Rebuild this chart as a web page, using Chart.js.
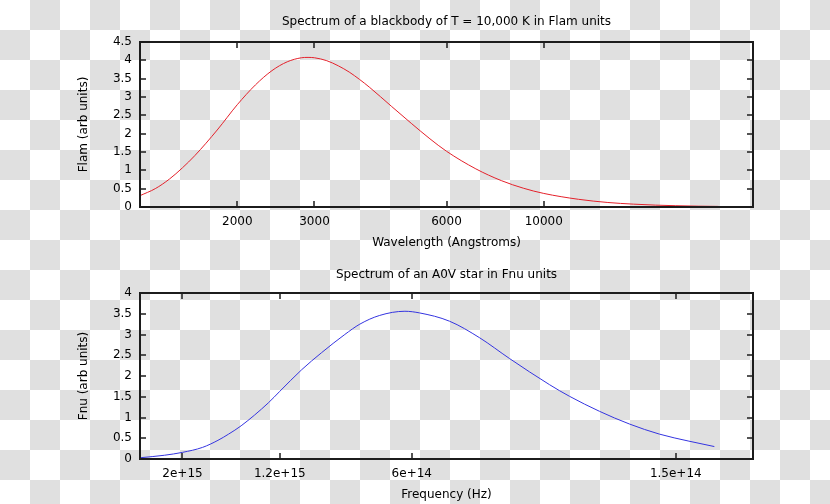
<!DOCTYPE html>
<html>
<head>
<meta charset="utf-8">
<script src="https://cdn.jsdelivr.net/npm/chart.js@4/dist/chart.umd.min.js"></script>
<style>
  html, body {
    margin: 0;
    padding: 0;
  }
  body {
    width: 830px;
    height: 504px;
    overflow: hidden;
    position: relative;
    background: repeating-conic-gradient(#e0e0e0 0 25%, #ffffff 0 50%) 0 0 / 60px 60px;
  }
  canvas {
    position: absolute;
    left: 0;
  }
  #flamChart { top: 0; }
  #fnuChart { top: 252px; }
</style>
</head>
<body>
<canvas id="flamChart" width="830" height="252"></canvas>
<canvas id="fnuChart" width="830" height="252"></canvas>
<script>
// top panel: blackbody, wavelength in Angstroms vs Flam
const flamWavelength = [1200, 1300, 1400, 1500, 1600, 1800, 2000, 2200, 2400, 2600, 2800, 2900, 3000, 3200, 3400, 3600, 3800, 4000, 4500, 5000, 5500, 6000, 7000, 8000, 9000, 10000, 12000, 14000, 16000, 18000, 20000, 22500, 25000];
const flamFlux = [0.31, 0.50, 0.76, 1.07, 1.40, 2.10, 2.79, 3.33, 3.72, 3.96, 4.07, 4.08, 4.07, 3.99, 3.85, 3.68, 3.48, 3.27, 2.74, 2.27, 1.86, 1.52, 1.04, 0.72, 0.51, 0.37, 0.21, 0.123, 0.078, 0.051, 0.035, 0.023, 0.016];
const flamXTicks = [2000, 3000, 6000, 10000];
const flamYTicks = [0, 0.5, 1, 1.5, 2, 2.5, 3, 3.5, 4, 4.5];

// bottom panel: A0V star, frequency in Hz vs Fnu
const fnuFrequency = [2.5e15, 2.2e15, 2.0e15, 1.8e15, 1.66e15, 1.57e15, 1.47e15, 1.275e15, 1.2e15, 1.07e15, 9.64e14, 8.53e14, 7.88e14, 7.1e14, 6.22e14, 5.76e14, 4.92e14, 4.2e14, 3.59e14, 2.91e14, 2.62e14, 2.24e14, 1.91e14, 1.635e14, 1.4e14, 1.225e14];
const fnuFlux = [0.03, 0.09, 0.16, 0.28, 0.45, 0.60, 0.80, 1.35, 1.63, 2.15, 2.56, 3.00, 3.25, 3.46, 3.56, 3.52, 3.32, 2.92, 2.42, 1.79, 1.51, 1.15, 0.84, 0.60, 0.43, 0.30];
const fnuXTicks = [2e15, 1.2e15, 6e14, 1.5e14];
const fnuXTickLabels = ['2e+15', '1.2e+15', '6e+14', '1.5e+14'];
const fnuYTicks = [0, 0.5, 1, 1.5, 2, 2.5, 3, 3.5, 4];

const FONT = 'DejaVu Sans';

// gnuplot style border with inward ticks on all four sides
const framePlugin = {
  id: 'frame',
  afterDraw(chart) {
    const { ctx, chartArea: area, scales } = chart;
    const len = 6;
    ctx.save();
    ctx.strokeStyle = '#1c1c1c';
    ctx.lineWidth = 1.5;
    ctx.beginPath();
    scales.x.ticks.forEach((tick) => {
      const px = Math.round(scales.x.getPixelForValue(tick.value));
      ctx.moveTo(px, area.bottom);
      ctx.lineTo(px, area.bottom - len);
      ctx.moveTo(px, area.top);
      ctx.lineTo(px, area.top + len);
    });
    scales.y.ticks.forEach((tick) => {
      const py = Math.round(scales.y.getPixelForValue(tick.value));
      ctx.moveTo(area.left, py);
      ctx.lineTo(area.left + len, py);
      ctx.moveTo(area.right, py);
      ctx.lineTo(area.right - len, py);
    });
    ctx.stroke();
    ctx.lineWidth = 2;
    ctx.strokeRect(area.left, area.top, area.right - area.left, area.bottom - area.top);
    ctx.restore();
  },
};

function makeChart(canvasId, opts) {
  return new Chart(document.getElementById(canvasId), {
    type: 'line',
    data: {
      datasets: [
        {
          data: opts.xs.map((x, i) => ({ x, y: opts.ys[i] })),
          xAxisID: 'x',
          yAxisID: 'y',
          borderColor: opts.color,
          borderWidth: 1,
          pointRadius: 0,
          cubicInterpolationMode: 'monotone',
          fill: false,
        },
      ],
    },
    options: {
      responsive: false,
      animation: false,
      devicePixelRatio: 1,
      layout: { padding: { left: 0, right: 77, top: 0, bottom: 0 } },
      plugins: {
        legend: { display: false },
        tooltip: { enabled: false },
        title: { display: false },
      },
      scales: {
        // holds the panel title, centred over the plot area
        top: {
          type: 'linear',
          axis: 'x',
          position: 'top',
          grid: { display: false, drawTicks: false },
          border: { display: false },
          ticks: { display: false },
          afterFit(scale) {
            scale.height = opts.areaTop;
          },
          title: {
            display: true,
            text: opts.title,
            color: '#000',
            font: { family: FONT, size: 12 },
            padding: { top: opts.titleCenter - 7.2, bottom: 0 },
          },
        },
        x: {
          type: 'logarithmic',
          position: 'bottom',
          min: opts.xMin,
          max: opts.xMax,
          reverse: opts.reverse,
          grid: { display: false, drawTicks: false },
          border: { display: false },
          afterBuildTicks(scale) {
            scale.ticks = opts.xTicks.map((value) => ({ value }));
          },
          afterFit(scale) {
            scale.height = 45;
          },
          ticks: {
            color: '#000',
            font: { family: FONT, size: 12 },
            padding: 8,
            maxRotation: 0,
            autoSkip: false,
            callback: opts.xLabel,
          },
          title: {
            display: true,
            text: opts.xTitle,
            color: '#000',
            font: { family: FONT, size: 12 },
            padding: { top: 0, bottom: 1.5 },
          },
        },
        y: {
          min: 0,
          max: opts.yTicks[opts.yTicks.length - 1],
          grid: { display: false, drawTicks: false },
          border: { display: false },
          afterBuildTicks(scale) {
            scale.ticks = opts.yTicks.map((value) => ({ value }));
          },
          afterFit(scale) {
            scale.width = 140;
          },
          ticks: {
            color: '#000',
            font: { family: FONT, size: 12 },
            padding: 8,
            callback: (value) => String(value),
          },
          title: {
            display: true,
            text: opts.yTitle,
            color: '#000',
            font: { family: FONT, size: 12 },
            padding: { top: 77, bottom: 0 },
          },
        },
      },
    },
    plugins: [framePlugin],
  });
}

makeChart('flamChart', {
  xs: flamWavelength,
  ys: flamFlux,
  color: '#e4202a',
  title: 'Spectrum of a blackbody of T = 10,000 K in Flam units',
  titleCenter: 21.5,
  areaTop: 42,
  xMin: 1200,
  xMax: 30000,
  reverse: false,
  xTicks: flamXTicks,
  xLabel: (value) => String(value),
  xTitle: 'Wavelength (Angstroms)',
  yTicks: flamYTicks,
  yTitle: 'Flam (arb units)',
});

makeChart('fnuChart', {
  xs: fnuFrequency,
  ys: fnuFlux,
  color: '#3434e0',
  title: 'Spectrum of an A0V star in Fnu units',
  titleCenter: 22.5,
  areaTop: 41,
  xMin: 1e14,
  xMax: 2.5e15,
  reverse: true,
  xTicks: fnuXTicks,
  xLabel: (value) => fnuXTickLabels[fnuXTicks.indexOf(value)],
  xTitle: 'Frequency (Hz)',
  yTicks: fnuYTicks,
  yTitle: 'Fnu (arb units)',
});
</script>
</body>
</html>
